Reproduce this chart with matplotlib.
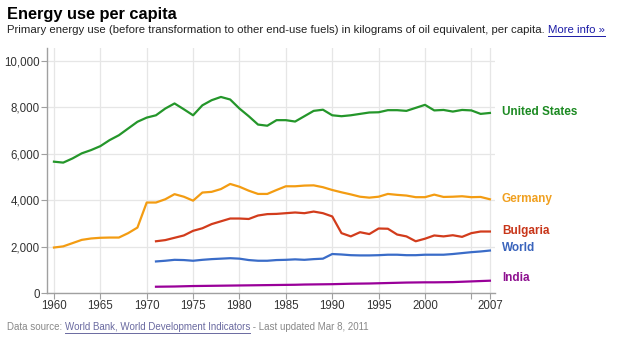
import matplotlib.pyplot as plt
import numpy as np

plt.rcParams['font.family'] = ['Liberation Sans', 'DejaVu Sans']

years_us = list(range(1960, 2008))
us = [5660, 5620, 5800, 6020, 6160, 6330, 6590, 6800, 7090, 7380,
      7560, 7660, 7950, 8170, 7920, 7660, 8090, 8310, 8450, 8340,
      7950, 7620, 7260, 7210, 7450, 7450, 7390, 7620, 7850, 7900,
      7660, 7620, 7660, 7720, 7780, 7790, 7880, 7880, 7850, 7980,
      8110, 7870, 7890, 7820, 7890, 7870, 7720, 7760]
germany = [1960, 2010, 2150, 2290, 2350, 2380, 2390, 2390, 2580, 2820,
           3900, 3900, 4040, 4260, 4150, 3980, 4330, 4360, 4480, 4700,
           4580, 4410, 4270, 4270, 4440, 4600, 4600, 4630, 4640, 4560,
           4440, 4340, 4250, 4150, 4110, 4150, 4270, 4230, 4200, 4130,
           4130, 4240, 4140, 4150, 4170, 4130, 4140, 4040]

years_71 = list(range(1971, 2008))
bulgaria = [2230, 2280, 2380, 2480, 2680, 2790, 2970, 3090, 3210,
            3210, 3190, 3340, 3400, 3410, 3440, 3470, 3440, 3510, 3440,
            3300, 2580, 2440, 2620, 2540, 2780, 2770, 2520, 2440, 2230,
            2340, 2480, 2440, 2490, 2420, 2580, 2650, 2650]
world = [1360, 1390, 1430, 1420, 1390, 1430, 1460, 1480, 1500,
         1480, 1420, 1390, 1390, 1420, 1430, 1450, 1430, 1460, 1480,
         1680, 1660, 1630, 1620, 1620, 1630, 1650, 1650, 1630, 1630,
         1650, 1650, 1650, 1680, 1720, 1760, 1790, 1830]
india = [270, 275, 280, 290, 300, 305, 310, 315, 320,
         325, 330, 335, 340, 345, 350, 355, 365, 370, 375,
         380, 390, 400, 405, 410, 420, 430, 440, 450, 455,
         460, 460, 465, 470, 485, 500, 515, 530]

series = [
    ('United States', years_us, us, '#24962a', '#1c8a22', 7800),
    ('Germany', years_us, germany, '#f39c12', '#f0a020', 4050),
    ('Bulgaria', years_71, bulgaria, '#d23c1c', '#c8361a', 2670),
    ('World', years_71, world, '#3a6cc8', '#3a64bc', 1930),
    ('India', years_71, india, '#990099', '#8e1190', 630),
]

x_ticks = [1960, 1965, 1970, 1975, 1980, 1985, 1990, 1995, 2000, 2005, 2007]
x_labels = ['1960', '1965', '1970', '1975', '1980', '1985', '1990', '1995', '2000', '', '2007']
y_ticks = [0, 2000, 4000, 6000, 8000, 10000]
y_labels = ['0', '2,000', '4,000', '6,000', '8,000', '10,000']

W, H = 618, 346
fig = plt.figure(figsize=(W / 100, H / 100), dpi=100)
ax = fig.add_axes([47 / W, 1 - 293 / H, 448 / W, 245 / H])

for name, xs, ys, c, lc, ly in series:
    ax.plot(xs, ys, color=c, linewidth=1.6, solid_joinstyle='round')
    ax.text(2007 + 1.3, ly, name, color=lc, fontsize=8.5, fontweight='bold',
            va='center', ha='left', clip_on=False)

ax.set_xlim(1959.25, 2007.55)
ax.set_ylim(0, 10560)
ax.set_xticks(x_ticks)
ax.set_xticklabels(x_labels)
ax.set_yticks(y_ticks)
ax.set_yticklabels(y_labels)
ax.grid(True, color='#e6e6e6', linewidth=0.9)
ax.set_axisbelow(True)
for s in ['top', 'right']:
    ax.spines[s].set_visible(False)
for s in ['left', 'bottom']:
    ax.spines[s].set_color('#a0a0a0')
    ax.spines[s].set_linewidth(1.0)
ax.tick_params(axis='both', colors='#a0a0a0', labelcolor='#333333',
               labelsize=8.3, length=4, width=0.8, pad=1)

fig.text(7 / W, 1 - 14 / H, 'Energy use per capita', fontsize=11.8,
         fontweight='bold', color='#000000', va='center', ha='left')


def chain(parts, x0, y0, size):
    # place text pieces one after another, underlining the links
    fig.canvas.draw()
    r = fig.canvas.get_renderer()
    x = x0
    for txt, col, link in parts:
        t = fig.text(x / W, 1 - y0 / H, txt, fontsize=size, color=col,
                     va='center', ha='left')
        bb = t.get_window_extent(r)
        if link:
            fig.add_artist(plt.Line2D([bb.x0 / W, bb.x1 / W],
                                      [1 - (y0 + 6) / H] * 2,
                                      color=col, linewidth=0.7))
        x = bb.x1


chain([('Primary energy use (before transformation to other end-use fuels) '
        'in kilograms of oil equivalent, per capita. ', '#222222', False),
       ('More info \u00bb', '#1a1aa6', True)], 7, 30, 8.2)

chain([('Data source: ', '#888888', False),
       ('World Bank, World Development Indicators', '#6a6aa0', True),
       (' - Last updated Mar 8, 2011', '#888888', False)], 7, 327, 7.0)

fig.savefig('out.png', dpi=100)
